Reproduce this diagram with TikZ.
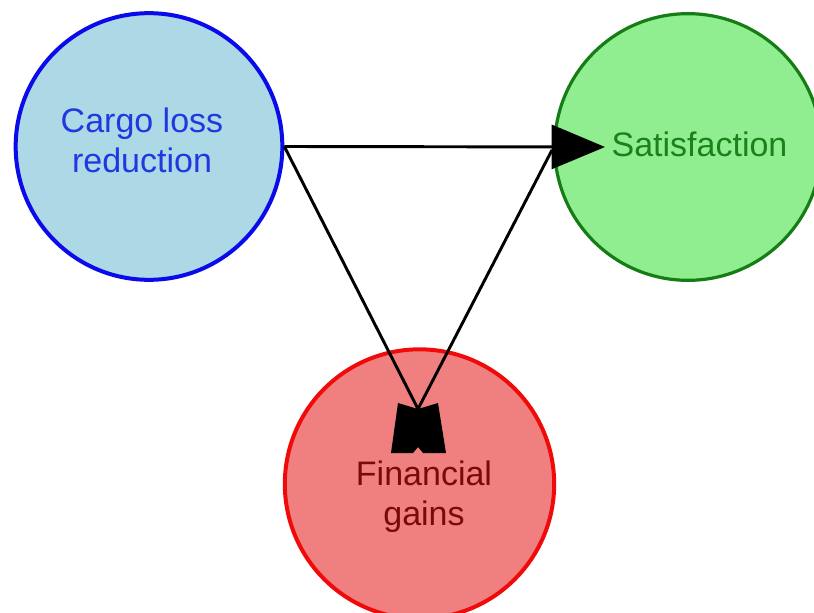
\documentclass[tikz,border=0pt]{standalone}
\usepackage{fontspec}
\setmainfont{Liberation Sans}
\usetikzlibrary{arrows.meta}
\definecolor{bfill}{RGB}{173,216,230}
\definecolor{bline}{RGB}{10,10,235}
\definecolor{btext}{RGB}{35,55,225}
\definecolor{gfill}{RGB}{144,238,144}
\definecolor{gline}{RGB}{20,125,20}
\definecolor{gtext}{RGB}{25,130,25}
\definecolor{rfill}{RGB}{240,128,128}
\definecolor{rline}{RGB}{240,10,10}
\definecolor{rtext}{RGB}{120,10,10}
\begin{document}
\begin{tikzpicture}[x=0.75pt,y=-0.75pt,
  circ/.style={circle, minimum size=200pt, inner sep=0pt},
  lbl/.style={font=\fontsize{25.5}{30}\selectfont, align=center, inner sep=0pt},
  conn/.style={line width=2.2pt, draw=black}]
\useasboundingbox (0,0) rectangle (814,613);
\clip (0,0) rectangle (814,613);
\node[circ, draw=bline, line width=3pt, fill=bfill] (cargo) at (149,146.5) {};
\node[circ, draw=gline, line width=2.4pt, fill=gfill] (sat) at (688,147) {};
\node[circ, draw=rline, line width=3pt, fill=rfill, minimum size=202pt] (fin) at (419.5,484) {};
\node[lbl, text=btext, anchor=base] (cargotxt) at (142,173) {Cargo loss\\reduction};
\node[lbl, text=gtext, anchor=base] (sattxt) at (699.5,157) {Satisfaction};
\node[lbl, text=rtext, anchor=base] (fintxt) at (424,525) {Financial\\gains};
\coordinate (gt) at (605,147);
\coordinate (gb) at (552,150);
\coordinate (rt) at (418,409);
\draw[conn, -{Triangle[length=40pt,width=33pt]}] (cargo.east) -- (gt);
\draw[conn] (cargo.east) -- (rt);
\draw[conn] (gb) -- (rt);
\fill[black] ([shift={(-20,-6)}]rt) -- (rt) -- ([shift={(20,-6)}]rt)
  -- ([shift={(28,44)}]rt) -- ([shift={(5,44)}]rt) -- ([shift={(0,38)}]rt)
  -- ([shift={(-5,44)}]rt) -- ([shift={(-27,44)}]rt) -- cycle;
\end{tikzpicture}
\end{document}
